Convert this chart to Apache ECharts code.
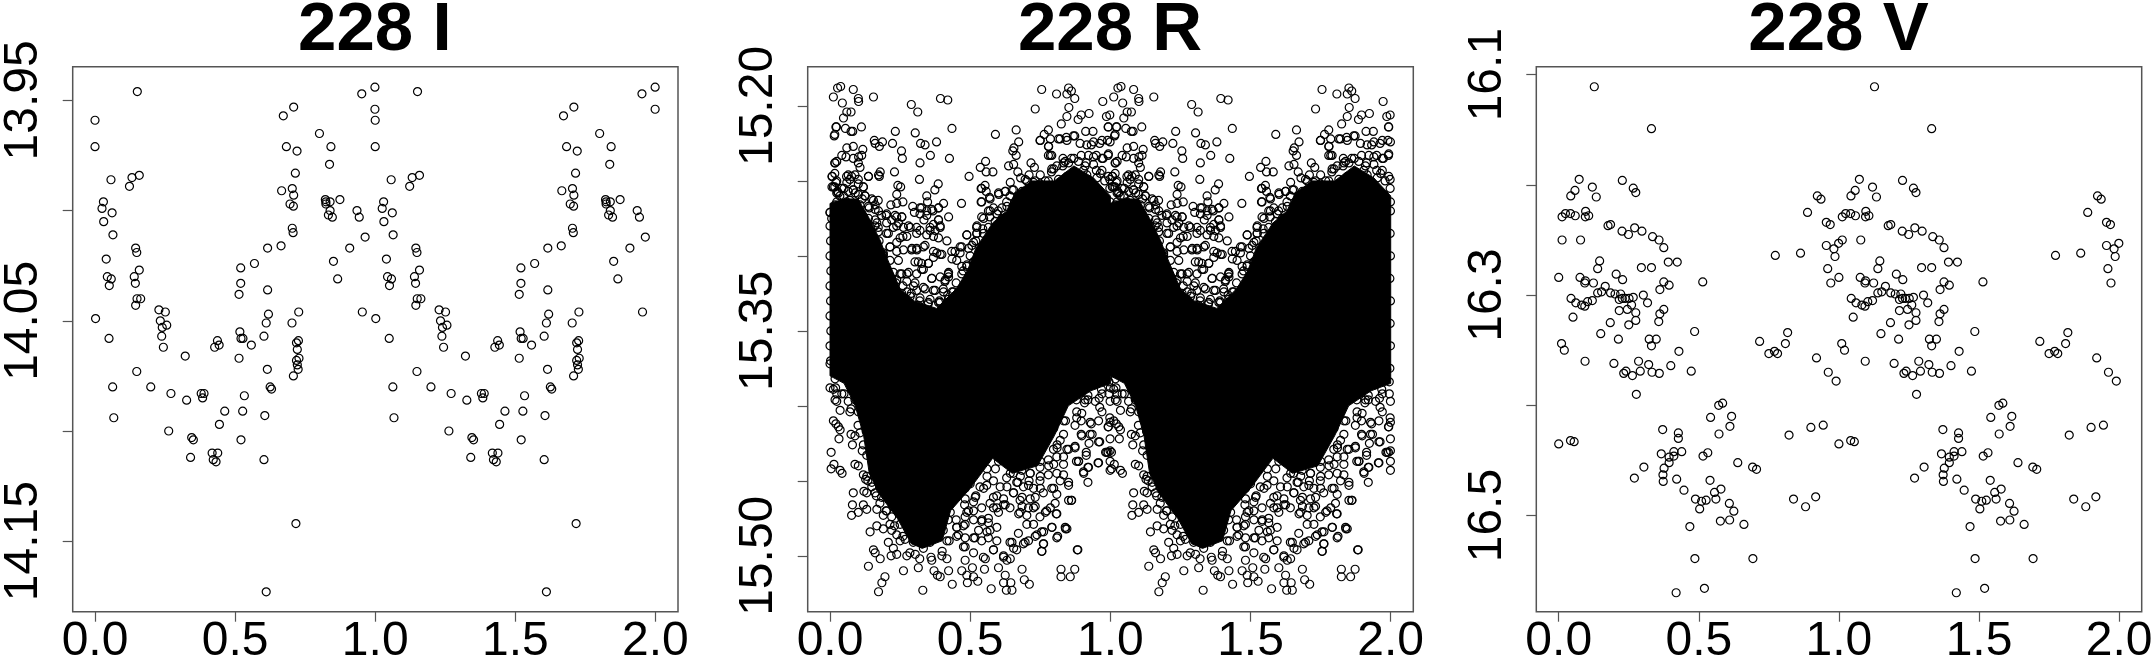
<!DOCTYPE html>
<html><head><meta charset="utf-8">
<style>html,body{margin:0;padding:0;background:#fff}#c{width:2155px;height:662px}</style>
<script src="https://cdn.jsdelivr.net/npm/echarts@6/dist/echarts.min.js"></script>
</head><body><div id="c"></div>
<script>
// Phase-folded light curves: each reading [phase, magnitude] is plotted at phase and at phase+1.
const titles = ['228 I','228 R','228 V'];
const xTicks = [0,0.5,1,1.5,2];
const iYTicks = [13.95,14,14.05,14.1,14.15];
const iYLabels = [13.95,14.05,14.15];
const rYTicks = [15.2,15.25,15.3,15.35,15.4,15.45,15.5];
const rYLabels = [15.2,15.35,15.5];
const vYTicks = [16.1,16.2,16.3,16.4,16.5];
const vYLabels = [16.1,16.3,16.5];

const iPoints = [[0,13.959],[0,13.971],[.151,13.946],[.057,13.986],[.123,13.989],[.132,13.985],[.158,13.984],[.03,13.996],[.025,13.999],[.031,14.005],[.061,14.001],[.064,14.011],[.04,14.022],[.044,14.03],[.058,14.031],[.051,14.034],[.002,14.049],[.05,14.058],[.063,14.08],[.067,14.094],[.145,14.017],[.149,14.019],[.158,14.027],[.14,14.03],[.144,14.033],[.15,14.04],[.163,14.04],[.145,14.043],[.149,14.073],[.199,14.08],[.228,14.045],[.251,14.046],[.233,14.05],[.256,14.052],[.24,14.053],[.238,14.057],[.244,14.062],[.271,14.083],[.263,14.1],[.322,14.066],[.327,14.086],[.341,14.112],[.345,14.103],[.351,14.104],[.379,14.083],[.389,14.083],[.384,14.085],[.418,14.11],[.438,14.11],[.422,14.113],[.432,14.114],[.437,14.059],[.427,14.062],[.443,14.061],[.444,14.097],[.463,14.091],[.514,14.038],[.52,14.026],[.52,14.033],[.517,14.055],[.521,14.058],[.528,14.058],[.514,14.067],[.533,14.084],[.527,14.091],[.521,14.104],[.558,14.061],[.569,14.024],[.616,14.017],[.616,14.036],[.619,14.047],[.611,14.051],[.603,14.057],[.615,14.072],[.625,14.08],[.63,14.081],[.606,14.093],[.603,14.113],[.611,14.173],[.664,14.016],[.672,13.957],[.709,13.953],[.683,13.971],[.721,13.973],[.715,13.983],[.666,13.991],[.704,13.99],[.709,13.993],[.696,13.997],[.708,13.998],[.704,14.008],[.707,14.01],[.703,14.051],[.727,14.046],[.726,14.059],[.719,14.06],[.722,14.063],[.728,14.067],[.719,14.068],[.722,14.07],[.725,14.072],[.708,14.075],[.717,14.142],[.801,13.965],[.842,13.971],[.837,13.979],[.822,13.995],[.824,13.996],[.824,13.997],[.839,13.996],[.839,14],[.833,14.002],[.847,14.003],[.874,13.995],[.851,14.023],[.866,14.031],[.909,14.017],[.935,14],[.943,14.003],[.964,14.012],[.952,13.947],[.999,13.944],[.999,13.954],[.954,14.046]];

const vPoints = [[.127,16.111],[.331,16.149],[.073,16.195],[.058,16.205],[.043,16.21],[.12,16.202],[.134,16.211],[.227,16.196],[.266,16.203],[.275,16.207],[.012,16.229],[.024,16.226],[.042,16.226],[.059,16.228],[.096,16.224],[.095,16.229],[.107,16.228],[.176,16.237],[.185,16.236],[.226,16.242],[.249,16.245],[.271,16.239],[.297,16.242],[.335,16.247],[.358,16.25],[.375,16.257],[.012,16.25],[.078,16.25],[.146,16.269],[.139,16.276],[.295,16.275],[.331,16.275],[.391,16.27],[.423,16.27],[0,16.284],[.076,16.284],[.093,16.289],[.095,16.287],[.124,16.289],[.166,16.292],[.205,16.281],[.228,16.286],[.375,16.288],[.394,16.291],[.361,16.295],[.514,16.288],[.139,16.298],[.153,16.297],[.185,16.298],[.201,16.299],[.221,16.299],[.216,16.304],[.227,16.303],[.237,16.303],[.251,16.303],[.266,16.302],[.302,16.3],[.317,16.307],[.26,16.309],[.044,16.303],[.061,16.307],[.082,16.309],[.093,16.31],[.103,16.306],[.12,16.305],[.051,16.32],[.216,16.314],[.245,16.313],[.275,16.316],[.275,16.323],[.25,16.327],[.184,16.325],[.15,16.335],[.375,16.313],[.361,16.317],[.357,16.324],[.485,16.333],[.213,16.34],[.323,16.34],[.348,16.34],[.331,16.346],[.01,16.344],[.02,16.35],[.094,16.36],[.429,16.351],[.197,16.362],[.285,16.36],[.321,16.363],[.4,16.364],[.24,16.369],[.232,16.371],[.263,16.373],[.291,16.369],[.333,16.37],[.359,16.371],[.473,16.369],[.277,16.39],[.717,16.342],[.75,16.353],[.77,16.351],[.781,16.353],[.809,16.344],[.817,16.334],[.773,16.264],[.863,16.262],[.888,16.225],[.923,16.21],[.936,16.213],[.92,16.357],[.571,16.4],[.585,16.398],[.542,16.411],[.617,16.41],[.611,16.419],[.572,16.426],[.371,16.422],[.427,16.425],[.427,16.43],[.042,16.432],[.055,16.433],[.822,16.427],[.9,16.42],[.944,16.418],[0,16.435],[.955,16.234],[.969,16.236],[.999,16.253],[.955,16.255],[.982,16.258],[.986,16.265],[.96,16.276],[.971,16.289],[.962,16.37],[.99,16.378],[.366,16.444],[.394,16.447],[.394,16.452],[.411,16.442],[.411,16.446],[.439,16.442],[.304,16.456],[.27,16.466],[.376,16.457],[.372,16.463],[.373,16.469],[.421,16.467],[.447,16.477],[.488,16.485],[.51,16.487],[.526,16.486],[.503,16.494],[.515,16.446],[.532,16.443],[.54,16.468],[.556,16.479],[.561,16.485],[.579,16.476],[.609,16.489],[.625,16.496],[.577,16.505],[.61,16.504],[.661,16.508],[.468,16.51],[.486,16.539],[.693,16.539],[.52,16.566],[.419,16.57],[.639,16.452],[.692,16.456],[.706,16.458],[.838,16.485],[.881,16.492],[.917,16.483]];

const rUpper = [[.012,15.194],[.027,15.188],[.038,15.187],[.083,15.189],[.044,15.198],[.101,15.195],[.102,15.197],[.155,15.194],[.29,15.199],[.313,15.204],[.394,15.195],[.42,15.196],[.755,15.189],[.808,15.192],[.732,15.202],[.851,15.188],[.845,15.192],[.06,15.204],[.075,15.204],[.048,15.208],[.021,15.214],[.055,15.215],[.075,15.217],[.081,15.217],[.112,15.214],[.015,15.22],[.233,15.217],[.304,15.218],[.435,15.215],[.59,15.219],[.664,15.216],[.158,15.223],[.187,15.224],[.176,15.227],[.161,15.225],[.223,15.225],[.323,15.225],[.339,15.226],[.38,15.224],[.358,15.233],[.255,15.23],[.258,15.235],[.426,15.235],[.321,15.238],[.656,15.228],[.673,15.224],[.652,15.23],[.664,15.233],[.764,15.219],[.779,15.216],[.75,15.223],[.786,15.222],[.815,15.222],[.825,15.212],[.018,15.238],[.024,15.237],[.06,15.228],[.083,15.227],[.117,15.229],[.042,15.233],[.057,15.234],[.083,15.235],[.102,15.234],[.113,15.233],[.101,15.238],[.107,15.241],[.007,15.247],[.024,15.25],[.065,15.246],[.077,15.247],[.101,15.249],[.137,15.247],[.173,15.246],[.179,15.244],[.23,15.244],[.176,15.247],[.319,15.249],[.496,15.247],[.536,15.241],[.555,15.237],[.557,15.244],[.581,15.244],[.637,15.24],[.655,15.239],[.67,15.244],[.643,15.251],[.717,15.238],[.729,15.241],[.786,15.233],[.78,15.227],[.798,15.242],[.833,15.238],[.861,15.19],[.873,15.195],[.852,15.201],[.845,15.207],[.896,15.206],[.924,15.205],[.885,15.209],[.973,15.197],[.998,15.206],[.986,15.207],[.992,15.214],[.938,15.217],[.912,15.217],[.962,15.225],[.99,15.223],[.843,15.221],[.873,15.22],[.932,15.226],[.95,15.233],[.992,15.233],[.974,15.235],[.998,15.249],[.998,15.255],[.999,15.264],[.831,15.235],[.896,15.233],[.861,15.235],[.914,15.238],[.964,15.245]];

const rMiddle = [[.007,15.254],[.024,15.258],[.06,15.251],[.083,15.256],[.119,15.254],[.125,15.26],[.252,15.254],[.242,15.253],[.386,15.252],[.374,15.256],[.345,15.26],[.348,15.264],[.238,15.259],[.539,15.255],[.557,15.257],[.469,15.265],[.539,15.264],[.569,15.261],[.602,15.259],[.625,15.257],[.655,15.256],[.685,15.257],[.696,15.249],[.726,15.251],[.768,15.25],[0,15.271],[.018,15.266],[.048,15.266],[.071,15.263],[.155,15.263],[.161,15.266],[.217,15.266],[.238,15.265],[.26,15.264],[.295,15.267],[.321,15.268],[.345,15.27],[.367,15.27],[.387,15.268],[.405,15.265],[.423,15.274],[.387,15.276],[.321,15.272],[.301,15.271],[.232,15.273],[.256,15.274],[.173,15.27],[.202,15.272],[.393,15.28],[.131,15.278],[.167,15.278],[.202,15.285],[.238,15.28],[.28,15.28],[.321,15.283],[.357,15.283],[.369,15.279],[.417,15.29],[.488,15.286],[.524,15.28],[.524,15.285],[.548,15.275],[.571,15.27],[.595,15.272],[.619,15.275],[.512,15.291],[.464,15.294],[.435,15.302],[.452,15.303],[.47,15.307],[.488,15.307],[.512,15.304],[.26,15.287],[.238,15.291],[.214,15.294],[.19,15.299],[.292,15.295],[.31,15.296],[.333,15.294],[.381,15.298],[.399,15.299],[.369,15.301],[.315,15.304],[.351,15.305],[.327,15.309],[.274,15.312],[.25,15.312],[.19,15.315],[.22,15.315],[.423,15.311],[.423,15.314],[.411,15.316],[.363,15.315],[.333,15.321],[.369,15.323],[.405,15.324],[.435,15.324],[.464,15.324],[.226,15.323],[.202,15.32],[.167,15.309],[.298,15.32],[.274,15.324],[.321,15.328],[.357,15.329],[.393,15.331],[.423,15.331],[.31,15.336],[.345,15.339],[.381,15.339],[.274,15.332],[.167,15.296],[.137,15.288],[.119,15.283],[.095,15.272],[.024,15.272]];

const rLower = [[0,15.372],[0,15.388],[.012,15.389],[.024,15.392],[.018,15.396],[.024,15.397],[.065,15.397],[.036,15.403],[.071,15.404],[.089,15.396],[.101,15.404],[.06,15.382],[.018,15.382],[.042,15.392],[.077,15.389],[.012,15.41],[.021,15.412],[.03,15.414],[.036,15.416],[.032,15.422],[.075,15.419],[.089,15.42],[.08,15.426],[.107,15.418],[.129,15.417],[.119,15.426],[.131,15.433],[.004,15.431],[.014,15.439],[.004,15.442],[.036,15.443],[.043,15.445],[.089,15.439],[.101,15.44],[.119,15.446],[.127,15.449],[.131,15.458],[.167,15.446],[.149,15.454],[.179,15.455],[.083,15.458],[.121,15.457],[.08,15.466],[.119,15.466],[.077,15.473],[.101,15.471],[.131,15.469],[.167,15.469],[.167,15.48],[.143,15.484],[.19,15.482],[.22,15.483],[.155,15.496],[.161,15.498],[.179,15.502],[.137,15.507],[.196,15.514],[.185,15.518],[.173,15.524],[.262,15.51],[.331,15.523],[.436,15.519],[.315,15.508],[.218,15.5],[.238,15.499],[.274,15.5],[.304,15.499],[.333,15.495],[.363,15.503],[.399,15.5],[.417,15.502],[.423,15.51],[.393,15.514],[.371,15.51],[.383,15.513],[.482,15.503],[.47,15.51],[.488,15.513],[.49,15.518],[.512,15.514],[.527,15.517],[.508,15.508],[.554,15.502],[.551,15.509],[.575,15.522],[.601,15.508],[.625,15.513],[.619,15.518],[.629,15.523],[.649,15.523],[.645,15.518],[.685,15.509],[.693,15.516],[.711,15.519],[.619,15.5],[.643,15.502],[.756,15.497],[.762,15.492],[.824,15.509],[.824,15.514],[.857,15.514],[.845,15.482],[.812,15.487],[.792,15.481],[.762,15.484],[.732,15.487],[.708,15.49],[.69,15.492],[.649,15.491],[.655,15.495],[.631,15.503],[.583,15.496],[.56,15.484],[.53,15.483],[.512,15.488],[.482,15.494],[.452,15.487],[.452,15.481],[.476,15.48],[.482,15.474],[.494,15.47],[.429,15.471],[.417,15.49],[.381,15.482],[.345,15.487],[.298,15.487],[.25,15.49],[.226,15.495],[.208,15.491],[.542,15.476],[.565,15.478],[.583,15.468],[.601,15.471],[.625,15.466],[.655,15.458],[.685,15.461],[.685,15.467],[.673,15.472],[.708,15.468],[.732,15.461],[.732,15.467],[.768,15.471],[.786,15.468],[.807,15.472],[.798,15.455],[.821,15.45],[.851,15.451],[.851,15.463],[.75,15.455],[.708,15.453],[.631,15.454],[.583,15.461],[.548,15.455],[.518,15.461],[.482,15.455],[.44,15.455],[.429,15.463],[.452,15.445],[.494,15.445],[.536,15.434],[.56,15.442],[.601,15.437],[.643,15.445],[.679,15.447],[.714,15.445],[.75,15.437],[.798,15.439],[.833,15.434],[.851,15.429],[.81,15.426],[.762,15.426],[.714,15.423],[.673,15.429],[.631,15.421],[.595,15.426],[.798,15.415],[.833,15.41],[.798,15.402],[.81,15.394],[.845,15.392],[.774,15.41],[.738,15.41],[.882,15.496],[.84,15.482],[.873,15.509],[.861,15.463],[.92,15.451],[.956,15.438],[.992,15.431],[.983,15.431],[.879,15.437],[.887,15.437],[.905,15.445],[.92,15.441],[.874,15.427],[.914,15.433],[.962,15.424],[.924,15.425],[.896,15.419],[.935,15.419],[.992,15.414],[.998,15.408],[.962,15.401],[.932,15.412],[.896,15.41],[.968,15.389],[.995,15.384],[.986,15.376],[.944,15.386],[.908,15.398],[.879,15.396],[.92,15.393],[.902,15.381]];

const rClusterTopLeft = [[.008,15.247],[.021,15.251],[.012,15.254],[.026,15.257],[.042,15.255],[.059,15.247],[.071,15.249],[.089,15.246],[.101,15.252],[.119,15.254],[.137,15.247],[.048,15.26],[.065,15.257],[.083,15.256],[.101,15.259],[.125,15.26],[.149,15.262],[.172,15.263],[.024,15.264],[.042,15.266],[.059,15.264],[.083,15.265],[.107,15.266],[.137,15.267],[.161,15.269],[0,15.271],[.018,15.269],[.006,15.275],[.036,15.272],[.059,15.272],[.089,15.273],[.113,15.272],[.137,15.275],[.161,15.276],[.184,15.273],[.2,15.273],[.024,15.278],[.048,15.276],[.071,15.278],[.172,15.281],[.202,15.278],[.22,15.276],[.238,15.274],[.256,15.274],[.244,15.278],[.226,15.281],[.262,15.281],[.286,15.281],[.309,15.281],[.327,15.268],[.345,15.273],[.363,15.269],[.387,15.268],[.335,15.276],[.357,15.281],[.375,15.283],[.345,15.286],[.369,15.287],[.309,15.285],[.274,15.287],[.25,15.288],[.208,15.285],[.172,15.284],[.137,15.284],[.387,15.288],[.393,15.281],[.387,15.276]];
const rClusterMidLeft = [[.19,15.298],[.214,15.294],[.238,15.297],[.262,15.296],[.291,15.296],[.309,15.295],[.339,15.293],[.369,15.297],[.393,15.299],[.303,15.304],[.327,15.305],[.351,15.305],[.214,15.303],[.244,15.303],[.19,15.305],[.202,15.309],[.226,15.311],[.256,15.312],[.28,15.311],[.309,15.312],[.333,15.309],[.363,15.315],[.41,15.317],[.422,15.312],[.178,15.314],[.208,15.316],[.238,15.316],[.274,15.317],[.303,15.318],[.393,15.314],[.167,15.321],[.196,15.323],[.226,15.322],[.256,15.325],[.286,15.327],[.309,15.323],[.339,15.322],[.375,15.323],[.404,15.322],[.44,15.324],[.464,15.324],[.178,15.329],[.214,15.331],[.25,15.332],[.286,15.334],[.315,15.333],[.351,15.331],[.387,15.331],[.422,15.329],[.452,15.327]];
const rClusterTopRight = [[.749,15.223],[.779,15.227],[.821,15.222],[.845,15.223],[.868,15.22],[.892,15.225],[.916,15.226],[.94,15.224],[.97,15.223],[.999,15.224],[.017,15.219],[.993,15.214],[.023,15.214],[.779,15.233],[.791,15.233],[.839,15.237],[.851,15.238],[.886,15.237],[.922,15.233],[.94,15.234],[.97,15.235],[.993,15.232],[.017,15.238],[.791,15.242],[.809,15.24],[.904,15.243],[.94,15.239],[.97,15.243],[.993,15.247],[.017,15.245],[.845,15.247],[.815,15.249],[.779,15.25],[.749,15.252],[.732,15.25],[.702,15.25],[.88,15.247],[.916,15.246],[.952,15.248],[.017,15.254],[.035,15.26],[.684,15.259],[.642,15.26],[.714,15.262],[.761,15.256],[.797,15.257],[.833,15.254],[.868,15.253],[.904,15.252],[.625,15.257],[.601,15.258],[.631,15.267],[.613,15.268],[.583,15.268],[.565,15.27],[.541,15.274],[.613,15.275],[.589,15.277],[.565,15.281],[.547,15.285],[.571,15.287],[.595,15.284],[.619,15.281],[.642,15.276],[.666,15.269],[.523,15.281],[.523,15.285],[.541,15.255],[.553,15.253],[.571,15.262],[.541,15.264],[.488,15.286],[.506,15.293],[.47,15.294],[.446,15.297],[.434,15.297],[.464,15.298],[.494,15.295],[.512,15.304],[.488,15.306],[.47,15.312],[.422,15.312]];
const rClusterBottom = [[.131,15.447],[.149,15.451],[.172,15.45],[.19,15.446],[.214,15.444],[.161,15.458],[.184,15.461],[.208,15.458],[.232,15.455],[.178,15.465],[.202,15.47],[.226,15.464],[.25,15.463],[.19,15.473],[.22,15.474],[.244,15.471],[.268,15.468],[.214,15.479],[.25,15.479],[.274,15.474],[.286,15.481],[.238,15.486],[.268,15.489],[.297,15.491],[.327,15.492],[.357,15.491],[.381,15.485],[.404,15.483],[.422,15.476],[.393,15.476],[.44,15.463],[.452,15.459],[.416,15.458],[.393,15.454],[.434,15.451],[.464,15.449],[.488,15.445],[.512,15.443],[.535,15.441],[.452,15.481],[.458,15.486],[.482,15.479],[.512,15.476],[.541,15.477],[.565,15.475],[.571,15.483],[.595,15.481],[.482,15.488],[.517,15.488],[.476,15.494],[.541,15.49],[.565,15.488],[.595,15.49],[.512,15.498],[.547,15.501],[.583,15.496],[.619,15.501],[.642,15.491],[.666,15.496],[.619,15.466],[.642,15.468],[.595,15.468],[.571,15.465],[.541,15.468],[.512,15.464],[.482,15.462],[.488,15.471],[.512,15.47],[.595,15.46],[.619,15.462],[.654,15.458],[.678,15.463],[.678,15.471],[.702,15.473],[.726,15.468],[.749,15.474],[.773,15.47],[.803,15.465],[.809,15.472],[.702,15.479],[.726,15.479],[.672,15.485],[.696,15.491],[.738,15.486],[.755,15.484],[.791,15.481],[.839,15.481],[.809,15.488],[.761,15.492],[.755,15.497],[.884,15.496],[.862,15.463],[.851,15.453],[.809,15.459],[.833,15.446],[.809,15.445],[.779,15.446],[.749,15.45],[.726,15.455],[.69,15.454],[.666,15.451],[.714,15.462],[.761,15.458],[.791,15.455],[.607,15.454],[.583,15.45],[.559,15.453],[.535,15.454],[.5,15.452],[.654,15.445],[.684,15.443],[.714,15.445],[.749,15.441],[.779,15.436],[.809,15.434],[.833,15.439],[.797,15.429],[.821,15.423],[.845,15.429],[.874,15.428],[.886,15.437],[.914,15.431],[.922,15.441],[.904,15.444],[.958,15.424],[.987,15.431],[.999,15.43],[.999,15.437],[.999,15.443],[.958,15.438],[.999,15.422],[.999,15.411],[.993,15.414],[.958,15.41],[.928,15.411],[.898,15.405],[.928,15.419],[.898,15.42],[.874,15.413],[.88,15.408],[.833,15.419],[.97,15.404],[.946,15.397],[.91,15.396],[.97,15.392],[.999,15.397]];
const rRim = [[.03,15.258],[.05,15.255],[.09,15.258],[.115,15.262],[.14,15.268],[.16,15.28],[.175,15.29],[.19,15.3],[.21,15.312],[.235,15.318],[.26,15.32],[.29,15.325],[.32,15.33],[.35,15.332],[.39,15.33],[.42,15.326],[.45,15.318],[.475,15.31],[.5,15.3],[.52,15.29],[.545,15.282],[.57,15.274],[.6,15.27],[.63,15.264],[.65,15.256],[.68,15.248],[.71,15.246],[.75,15.246],[.79,15.244],[.83,15.24],[.87,15.235],[.91,15.24],[.95,15.243],[.98,15.25],[.995,15.392],[.96,15.395],[.92,15.396],[.88,15.404],[.84,15.41],[.81,15.428],[.78,15.44],[.75,15.447],[.71,15.45],[.67,15.451],[.63,15.448],[.59,15.442],[.56,15.447],[.52,15.46],[.48,15.466],[.45,15.476],[.425,15.49],[.4,15.497],[.36,15.501],[.32,15.502],[.285,15.498],[.26,15.487],[.23,15.48],[.2,15.47],[.165,15.46],[.135,15.45],[.115,15.43],[.1,15.413],[.075,15.402],[.05,15.392],[.02,15.388],[0,15.28],[.002,15.29],[0,15.3],[.003,15.31],[0,15.32],[.002,15.33],[0,15.34],[.003,15.35],[0,15.36],[.002,15.37],[.999,15.27],[.998,15.285],[.999,15.3],[.997,15.315],[.999,15.33],[.998,15.345],[.999,15.36],[.997,15.375]];

// Outline of the region of panel R where overlapping circles merge into near-solid black.
const rSolidCore = [[0,15.265],[.05,15.262],[.1,15.262],[.14,15.275],[.18,15.29],[.2,15.3],[.25,15.322],[.3,15.33],[.38,15.335],[.45,15.322],[.49,15.31],[.52,15.295],[.58,15.278],[.63,15.27],[.66,15.258],[.72,15.25],[.8,15.25],[.87,15.24],[.94,15.248],[1,15.26],[1,15.385],[.93,15.39],[.85,15.4],[.8,15.42],[.74,15.44],[.65,15.445],[.58,15.435],[.5,15.455],[.43,15.47],[.4,15.49],[.33,15.495],[.29,15.492],[.24,15.475],[.18,15.46],[.14,15.445],[.12,15.42],[.09,15.4],[.05,15.385],[0,15.38]];

const twoCycles = pts => pts.concat(pts.map(p => [p[0] + 1, p[1]]));
const rPoints = rUpper.concat(rMiddle, rLower, rClusterTopLeft, rClusterMidLeft, rClusterTopRight, rClusterBottom, rRim);

const frames = [
  {left:72.7, top:66.7, w:605.3, h:545, xMin:-0.0796, xMax:2.0806, yMin:13.9347, yMax:14.182, ticks:iYTicks, labels:iYLabels, pts:iPoints},
  {left:807.7, top:66.7, w:605.6, h:545, xMin:-0.0796, xMax:2.0806, yMin:15.1738, yMax:15.5373, ticks:rYTicks, labels:rYLabels, pts:rPoints},
  {left:1536.3, top:66.7, w:605.4, h:545, xMin:-0.08, xMax:2.0806, yMin:16.0928, yMax:16.5872, ticks:vYTicks, labels:vYLabels, pts:vPoints}
];
const axisColor = '#555';
const font = '"Liberation Sans", Arial, sans-serif';
const option = {
  animation:false, backgroundColor:'#fff',
  title: frames.map((f,i)=>({text:titles[i], left:f.left+f.w/2-5.5, top:-9, textAlign:'center',
    textStyle:{fontFamily:font, fontWeight:'bold', fontSize:69, color:'#000'}})),
  grid: frames.map(f=>({left:f.left, top:f.top, width:f.w, height:f.h, outerBoundsMode:'none', show:true, borderColor:axisColor, borderWidth:1.5, backgroundColor:'transparent'})),
  xAxis: frames.map((f,i)=>({type:'value', gridIndex:i, min:f.xMin, max:f.xMax, splitLine:{show:false},
    axisLine:{show:false, onZero:false},
    axisTick:{show:true, length:10, lineStyle:{color:axisColor,width:1.2}, customValues:xTicks},
    axisLabel:{fontFamily:font, fontSize:48, color:'#000', margin:6, customValues:xTicks, formatter:v=>v.toFixed(1), hideOverlap:false}})),
  yAxis: frames.map((f,i)=>({type:'value', gridIndex:i, inverse:true, min:f.yMin, max:f.yMax, splitLine:{show:false},
    axisLine:{show:false, onZero:false},
    axisTick:{show:true, length:10, lineStyle:{color:axisColor,width:1.2}, customValues:f.ticks},
    axisLabel:{fontFamily:font, fontSize:48, color:'#000', rotate:90, margin:25, customValues:f.labels,
      formatter:v=>v.toFixed(i===2?1:2), hideOverlap:false}})),
  series: [
    {type:'custom', xAxisIndex:1, yAxisIndex:1, silent:true, z:1, data:[[0],[1]],
     renderItem:(params,api)=>({type:'polygon', shape:{points:rSolidCore.map(p=>api.coord([p[0]+api.value(0),p[1]]))}, style:{fill:'#000',stroke:'#000',lineWidth:1}})},
    ...frames.map((f,i)=>({type:'scatter', xAxisIndex:i, yAxisIndex:i, silent:true, z:2, symbol:'circle', symbolSize:8,
      large:false, itemStyle:{color:'rgba(0,0,0,0)', borderColor:'#000', borderWidth:1.2, opacity:1}, data:twoCycles(f.pts)}))
  ]
};
echarts.init(document.getElementById('c'),null,{renderer:'canvas'}).setOption(option);
</script></body></html>
